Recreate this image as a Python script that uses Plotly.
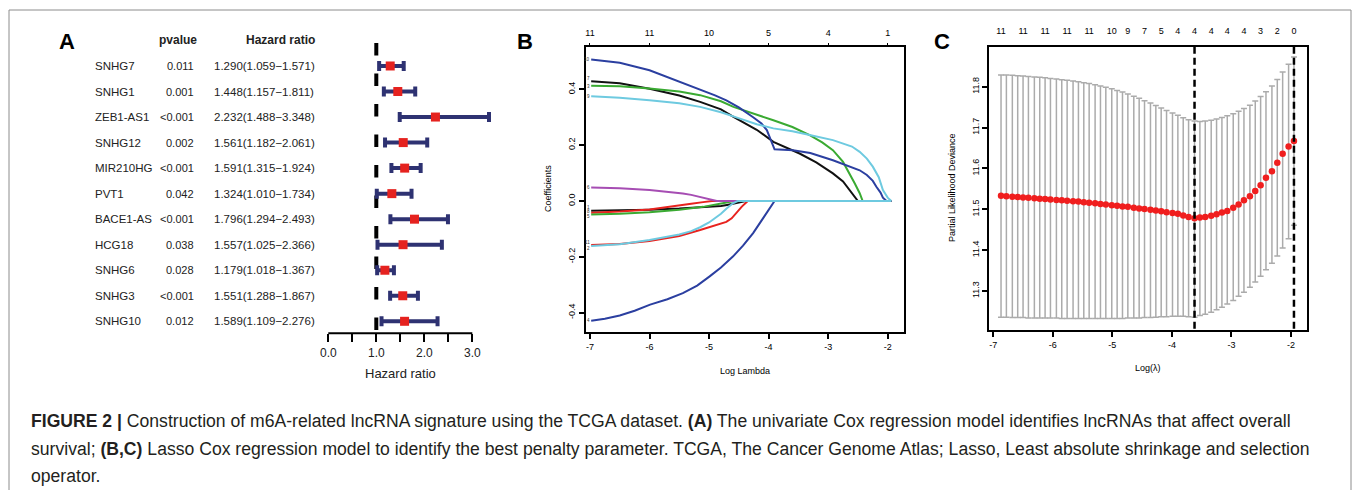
import plotly.graph_objects as go

W, H = 1355, 490
def fx(p): return p / W
def fy(p): return 1 - p / H

FONT = "Liberation Sans"

# ---------------- Panel A data ----------------
genes = ["SNHG7", "SNHG1", "ZEB1-AS1", "SNHG12", "MIR210HG", "PVT1",
         "BACE1-AS", "HCG18", "SNHG6", "SNHG3", "SNHG10"]
pvals = ["0.011", "0.001", "<0.001", "0.002", "<0.001", "0.042",
         "<0.001", "0.038", "0.028", "<0.001", "0.012"]
hr = [1.290, 1.448, 2.232, 1.561, 1.591, 1.324, 1.796, 1.557, 1.179, 1.551, 1.589]
hr_low = [1.059, 1.157, 1.488, 1.182, 1.315, 1.010, 1.294, 1.025, 1.018, 1.288, 1.109]
hr_high = [1.571, 1.811, 3.348, 2.061, 1.924, 1.734, 2.493, 2.366, 1.367, 1.867, 2.276]
hr_ticks = [0, 0.5, 1, 1.5, 2, 2.5, 3]
hr_ticktext = ["0.0", "", "1.0", "", "2.0", "", "3.0"]

# ---------------- Panel B data (coefficient paths) ----------------
b_xticks = [-7, -6, -5, -4, -3, -2]
b_xticktext = ["-7", "-6", "-5", "-4", "-3", "-2"]
b_top_text = ["11", "11", "10", "5", "4", "1"]
b_yticks = [-0.4, -0.2, 0.0, 0.2, 0.4]
b_yticktext = ["-0.4", "-0.2", "0.0", "0.2", "0.4"]

blue_top_x = [-6.98, -6.5, -6.0, -5.5, -5.15, -4.9, -4.71, -4.5, -4.26, -4.12, -4.03, -3.90, -3.59, -3.3, -2.92, -2.6, -2.47, -2.35, -2.25, -2.19, -2.12, -2.08, -2.02, -1.94]
blue_top_y = [0.507, 0.495, 0.468, 0.428, 0.40, 0.378, 0.36, 0.335, 0.30, 0.278, 0.254, 0.185, 0.182, 0.172, 0.146, 0.122, 0.11, 0.093, 0.072, 0.051, 0.03, 0.012, 0.0, 0.0]
black_top_x = [-6.98, -6.5, -6.0, -5.5, -5.15, -4.8, -4.59, -4.2, -3.92, -3.7, -3.48, -3.2, -2.92, -2.75, -2.64, -2.56, -2.50, -1.94]
black_top_y = [0.429, 0.422, 0.402, 0.378, 0.355, 0.328, 0.301, 0.255, 0.212, 0.192, 0.170, 0.138, 0.099, 0.07, 0.039, 0.018, 0.0, 0.0]
green_top_x = [-6.98, -6.5, -6.0, -5.5, -5.15, -4.8, -4.59, -4.2, -3.92, -3.6, -3.31, -3.1, -2.92, -2.75, -2.64, -2.55, -2.47, -2.42, -1.94]
green_top_y = [0.413, 0.411, 0.403, 0.392, 0.379, 0.357, 0.337, 0.31, 0.289, 0.265, 0.236, 0.21, 0.182, 0.14, 0.099, 0.062, 0.028, 0.0, 0.0]
cyan_top_x = [-6.98, -6.5, -6.0, -5.5, -5.15, -4.8, -4.48, -4.2, -3.92, -3.6, -3.31, -2.92, -2.6, -2.47, -2.35, -2.25, -2.15, -2.08, -2.0, -1.94]
cyan_top_y = [0.375, 0.370, 0.361, 0.35, 0.337, 0.318, 0.295, 0.275, 0.26, 0.25, 0.236, 0.218, 0.195, 0.176, 0.152, 0.123, 0.085, 0.039, 0.012, 0.0]
purple_x = [-6.98, -6.5, -6.0, -5.7, -5.44, -5.3, -5.2, -5.1, -5.04, -4.95, -4.87, -1.94]
purple_y = [0.048, 0.046, 0.039, 0.033, 0.027, 0.022, 0.017, 0.012, 0.0095, 0.004, 0.0, 0.0]
black_bot_x = [-6.98, -6.5, -6.0, -5.5, -5.0, -4.8, -4.7, -4.6, -4.5, -4.38, -1.94]
black_bot_y = [-0.035, -0.034, -0.031, -0.027, -0.022, -0.018, -0.014, -0.010, -0.006, 0.0, 0.0]
red_small_x = [-6.98, -6.5, -6.0, -5.8, -5.6, -5.45, -5.3, -5.1, -4.95, -1.94]
red_small_y = [-0.042, -0.038, -0.030, -0.025, -0.020, -0.015, -0.010, -0.004, 0.0, 0.0]
green_bot_x = [-6.98, -6.5, -6.0, -5.5, -5.1, -4.95, -4.85, -4.75, -4.65, -4.57, -1.94]
green_bot_y = [-0.048, -0.046, -0.040, -0.031, -0.021, -0.016, -0.011, -0.007, -0.003, 0.0, 0.0]
red_bot_x = [-6.98, -6.5, -6.0, -5.5, -5.15, -4.9, -4.71, -4.62, -4.55, -4.45, -4.35, -1.94]
red_bot_y = [-0.158, -0.154, -0.143, -0.125, -0.104, -0.088, -0.075, -0.062, -0.045, -0.020, 0.0, 0.0]
cyan_bot_x = [-6.98, -6.5, -6.0, -5.5, -5.3, -5.15, -5.0, -4.9, -4.8, -4.71, -4.65, -4.6, -4.52, -1.94]
cyan_bot_y = [-0.161, -0.155, -0.140, -0.120, -0.108, -0.094, -0.077, -0.063, -0.046, -0.028, -0.016, -0.008, 0.0, 0.0]
blue_bot_x = [-6.98, -6.75, -6.5, -6.25, -5.99, -5.7, -5.44, -5.2, -4.99, -4.8, -4.60, -4.43, -4.26, -4.15, -4.03, -3.96, -3.90, -1.94]
blue_bot_y = [-0.429, -0.422, -0.41, -0.393, -0.371, -0.352, -0.330, -0.303, -0.270, -0.238, -0.199, -0.160, -0.115, -0.080, -0.044, -0.022, 0.0, 0.0]

# ---------------- Panel C data (CV deviance) ----------------
log_lambda = [-6.87, -6.78, -6.68, -6.59, -6.50, -6.41, -6.31, -6.22, -6.13, -6.04,
              -5.94, -5.85, -5.76, -5.66, -5.57, -5.48, -5.39, -5.29, -5.20, -5.11,
              -5.01, -4.92, -4.83, -4.74, -4.64, -4.55, -4.46, -4.36, -4.27, -4.18,
              -4.09, -3.99, -3.90, -3.81, -3.72, -3.62, -3.53, -3.44, -3.34, -3.25,
              -3.16, -3.07, -2.97, -2.88, -2.79, -2.69, -2.60, -2.51, -2.42, -2.32,
              -2.23, -2.14, -2.04, -1.95]
cv_mean = [11.533, 11.532, 11.531, 11.530, 11.529, 11.528, 11.527, 11.526, 11.525, 11.524,
           11.523, 11.522, 11.521, 11.520, 11.519, 11.517, 11.516, 11.515, 11.513, 11.512,
           11.510, 11.509, 11.507, 11.506, 11.504, 11.502, 11.501, 11.499, 11.497, 11.495,
           11.493, 11.491, 11.489, 11.485, 11.481, 11.478, 11.480, 11.481, 11.484, 11.488,
           11.492, 11.496, 11.504, 11.512, 11.522, 11.532, 11.545, 11.559, 11.577, 11.593,
           11.614, 11.636, 11.654, 11.667]
cv_upper = [11.829, 11.829, 11.828, 11.827, 11.826, 11.825, 11.824, 11.823, 11.822, 11.820,
            11.819, 11.817, 11.816, 11.814, 11.812, 11.810, 11.808, 11.805, 11.802, 11.799,
            11.795, 11.791, 11.787, 11.782, 11.777, 11.772, 11.766, 11.760, 11.754, 11.748,
            11.742, 11.736, 11.730, 11.724, 11.719, 11.716, 11.715, 11.716, 11.718, 11.721,
            11.725, 11.729, 11.734, 11.740, 11.747, 11.755, 11.765, 11.776, 11.788, 11.802,
            11.818, 11.836, 11.855, 11.873]
cv_lower = [11.236, 11.236, 11.235, 11.235, 11.235, 11.234, 11.234, 11.234, 11.234, 11.234,
            11.234, 11.233, 11.233, 11.233, 11.233, 11.233, 11.233, 11.233, 11.233, 11.233,
            11.233, 11.233, 11.233, 11.234, 11.234, 11.234, 11.235, 11.235, 11.236, 11.237,
            11.237, 11.238, 11.238, 11.238, 11.237, 11.236, 11.240, 11.243, 11.248, 11.254,
            11.260, 11.268, 11.277, 11.287, 11.297, 11.309, 11.322, 11.336, 11.352, 11.368,
            11.386, 11.405, 11.428, 11.461]
c_top_pos = [-6.87, -6.50, -6.13, -5.76, -5.39, -5.01, -4.74, -4.46, -4.18, -3.90,
             -3.62, -3.34, -3.07, -2.79, -2.51, -2.23, -1.95]
c_top_text = ["11", "11", "11", "11", "11", "10", "9", "7", "5", "4",
              "4", "4", "4", "4", "3", "2", "0"]
c_vlines = [-3.62, -1.95]
c_yticks = [11.3, 11.4, 11.5, 11.6, 11.7, 11.8]
c_xticks = [-7, -6, -5, -4, -3, -2]
c_xticktext = ["-7", "-6", "-5", "-4", "-3", "-2"]

fig = go.Figure()

# ================= Panel A =================
NAVY = "#2E3272"
RED = "#E5221F"
yrow = [11 - i for i in range(len(genes))]
fig.add_trace(go.Scatter(
    x=[1, 1], y=[11.9, 0.53], mode="lines",
    line=dict(color="black", width=4, dash="12.5px,18px"),
    xaxis="x", yaxis="y", showlegend=False, hoverinfo="skip"))
fig.add_trace(go.Scatter(
    x=hr, y=yrow, mode="markers",
    marker=dict(symbol="square", size=9, color=RED),
    error_x=dict(type="data", symmetric=False,
                 array=[h - m for h, m in zip(hr_high, hr)],
                 arrayminus=[m - l for m, l in zip(hr, hr_low)],
                 color=NAVY, thickness=4, width=5),
    xaxis="x", yaxis="y", showlegend=False, cliponaxis=False))

# ================= Panel B =================
b_lines = [
    (black_top_x, black_top_y, "#111111"),
    (black_bot_x, black_bot_y, "#111111"),
    (red_small_x, red_small_y, "#E8231F"),
    (red_bot_x, red_bot_y, "#E8231F"),
    (green_top_x, green_top_y, "#3AAA32"),
    (green_bot_x, green_bot_y, "#3AAA32"),
    (blue_top_x, blue_top_y, "#2B3FA0"),
    (blue_bot_x, blue_bot_y, "#2B3FA0"),
    (purple_x, purple_y, "#A64DB3"),
    (cyan_top_x, cyan_top_y, "#6ECAE0"),
    (cyan_bot_x, cyan_bot_y, "#6ECAE0"),
]
for xs, ys, col in b_lines:
    fig.add_trace(go.Scatter(x=xs, y=ys, mode="lines",
                             line=dict(color=col, width=2, shape="linear"),
                             xaxis="x2", yaxis="y2", showlegend=False))
fig.add_trace(go.Scatter(x=[b_xticks[0]], y=[0], mode="markers", marker=dict(opacity=0),
                         xaxis="x3", yaxis="y2", showlegend=False, hoverinfo="skip"))

# path labels at start of lines
b_labels = [("10", 0.507), ("7", 0.437), ("3", 0.410), ("9", 0.375), ("6", 0.048),
            ("1", -0.022), ("8", -0.039), ("5", -0.056), ("11", -0.150), ("2", -0.169), ("4", -0.429)]

# ================= Panel C =================
fig.add_trace(go.Scatter(
    x=log_lambda, y=cv_mean, mode="markers",
    marker=dict(color="#F01E1E", size=6.5),
    error_y=dict(type="data", symmetric=False,
                 array=[u - m for u, m in zip(cv_upper, cv_mean)],
                 arrayminus=[m - l for m, l in zip(cv_mean, cv_lower)],
                 color="#ABABAB", thickness=1.5, width=3),
    xaxis="x4", yaxis="y4", showlegend=False))
for v in c_vlines:
    fig.add_trace(go.Scatter(x=[v, v], y=[11.898, 11.2046], mode="lines",
                             line=dict(color="black", width=2.5, dash="7px,4px"),
                             xaxis="x4", yaxis="y4", showlegend=False, hoverinfo="skip"))
fig.add_trace(go.Scatter(x=[c_top_pos[0]], y=[11.5], mode="markers", marker=dict(opacity=0),
                         xaxis="x5", yaxis="y4", showlegend=False, hoverinfo="skip"))

tickfont = dict(family=FONT, size=9, color="black")
box = dict(showline=True, mirror=True, linecolor="black", linewidth=2,
           showgrid=False, zeroline=False, ticks="outside", ticklen=5,
           tickwidth=1.5, tickcolor="black", tickfont=tickfont)

fig.update_layout(
    width=W, height=H, margin=dict(l=0, r=0, t=0, b=0),
    paper_bgcolor="white", plot_bgcolor="white",
    font=dict(family=FONT, color="black"),
    xaxis=dict(domain=[fx(328.3 - 0.3 * 48), fx(328.3 + 3.6 * 48)], range=[-0.3, 3.6],
               showline=False, showgrid=False, zeroline=False,
               tickvals=hr_ticks, ticktext=hr_ticktext, ticks="outside", ticklen=8,
               tickwidth=2, tickcolor="black",
               tickfont=dict(family=FONT, size=12, color="#222"), anchor="y"),
    yaxis=dict(domain=[fy(333.3), fy(43)], range=[0.53, 11.9], visible=False, anchor="x"),
    xaxis2=dict(domain=[fx(586), fx(904)], range=[-7.067, -1.726], anchor="y2",
                tickvals=b_xticks, ticktext=b_xticktext, **box),
    yaxis2=dict(domain=[fy(331.7), fy(46.7)], range=[-0.468, 0.5525], anchor="x2",
                tickvals=b_yticks, ticktext=b_yticktext, tickangle=-90, **box),
    xaxis3=dict(overlaying="x2", side="top", anchor="y2", range=[-7.067, -1.726],
                tickvals=b_xticks, ticktext=b_top_text, ticks="outside", ticklen=3,
                tickcolor="black", tickwidth=1, showgrid=False, zeroline=False,
                showline=False, tickfont=tickfont, ticklabelstandoff=3),
    xaxis4=dict(domain=[fx(989.3), fx(1306.7)], range=[-7.067, -1.736], anchor="y4",
                tickvals=c_xticks, ticktext=c_xticktext, **box),
    yaxis4=dict(domain=[fy(330), fy(46.7)], range=[11.2046, 11.898], anchor="x4",
                tickvals=c_yticks, tickformat=".1f", tickangle=-90, **box),
    xaxis5=dict(overlaying="x4", side="top", anchor="y4", range=[-7.067, -1.736],
                tickvals=c_top_pos, ticktext=c_top_text, ticks="", showgrid=False,
                zeroline=False, showline=False, tickfont=tickfont, ticklabelstandoff=10),
)

ann = []
def A(x, y, text, size, xanchor="center", bold=False, color="black", xref="paper", yref="paper", angle=0):
    ann.append(dict(x=x, y=y, xref=xref, yref=yref, text=("<b>%s</b>" % text) if bold else text,
                    showarrow=False, xanchor=xanchor, yanchor="middle", textangle=angle,
                    font=dict(family=FONT, size=size, color=color)))

# panel letters
A(fx(66.5), fy(41), "A", 22, bold=True)
A(fx(525), fy(41.5), "B", 22, bold=True)
A(fx(942), fy(41), "C", 22, bold=True)

# Panel A table
A(fx(178), fy(40), "pvalue", 12, bold=True, color="#222")
A(fx(280), fy(40), "Hazard ratio", 12, bold=True, color="#222")
for g, p, h, l, u, yv in zip(genes, pvals, hr, hr_low, hr_high, yrow):
    A(fx(93), yv, g, 11.5, xanchor="left", color="#222", yref="y")
    A(fx(196), yv, p, 11, xanchor="right", color="#222", yref="y")
    A(fx(211.5), yv, "%.3f(%.3f\u2212%.3f)" % (h, l, u), 11.5, xanchor="left", color="#222", yref="y")
A(fx(400), fy(373), "Hazard ratio", 13, color="#222")

# Panel B titles and path labels
A(fx(548), fy(189), "Coefficients", 9, angle=-90)
A(fx(745), fy(371), "Log Lambda", 9)
for t, yv in b_labels:
    ann.append(dict(x=-6.97, y=yv, xref="x2", yref="y2", text=t, showarrow=False,
                    xanchor="right", yanchor="middle", font=dict(family=FONT, size=4.5, color="#333")))

# Panel C titles
A(fx(952), fy(188), "Partial Likelihood Deviance", 9, angle=-90)
A(fx(1148), fy(368), "Log(\u03bb)", 9)

# caption
cap_col = "#231F20"
A(fx(29), fy(421), "<b>FIGURE 2 |</b> Construction of m6A-related lncRNA signature using the TCGA dataset. <b>(A)</b> The univariate Cox regression model identifies lncRNAs that affect overall", 17.6, xanchor="left", color=cap_col)
A(fx(29), fy(449), "survival; <b>(B,C)</b> Lasso Cox regression model to identify the best penalty parameter. TCGA, The Cancer Genome Atlas; Lasso, Least absolute shrinkage and selection", 17.6, xanchor="left", color=cap_col)
A(fx(29), fy(476), "operator.", 17.6, xanchor="left", color=cap_col)

fig.update_layout(annotations=ann)

shapes = [
    dict(type="rect", xref="paper", yref="paper", x0=fx(9), x1=fx(1351), y0=fy(500), y1=fy(10),
         line=dict(color="#8C8C8C", width=1), layer="below"),
    dict(type="line", xref="x", yref="paper", x0=0, x1=3, y0=fy(333.3), y1=fy(333.3),
         line=dict(color="black", width=2)),
]
fig.update_layout(shapes=shapes)

fig.write_html("out.html")
